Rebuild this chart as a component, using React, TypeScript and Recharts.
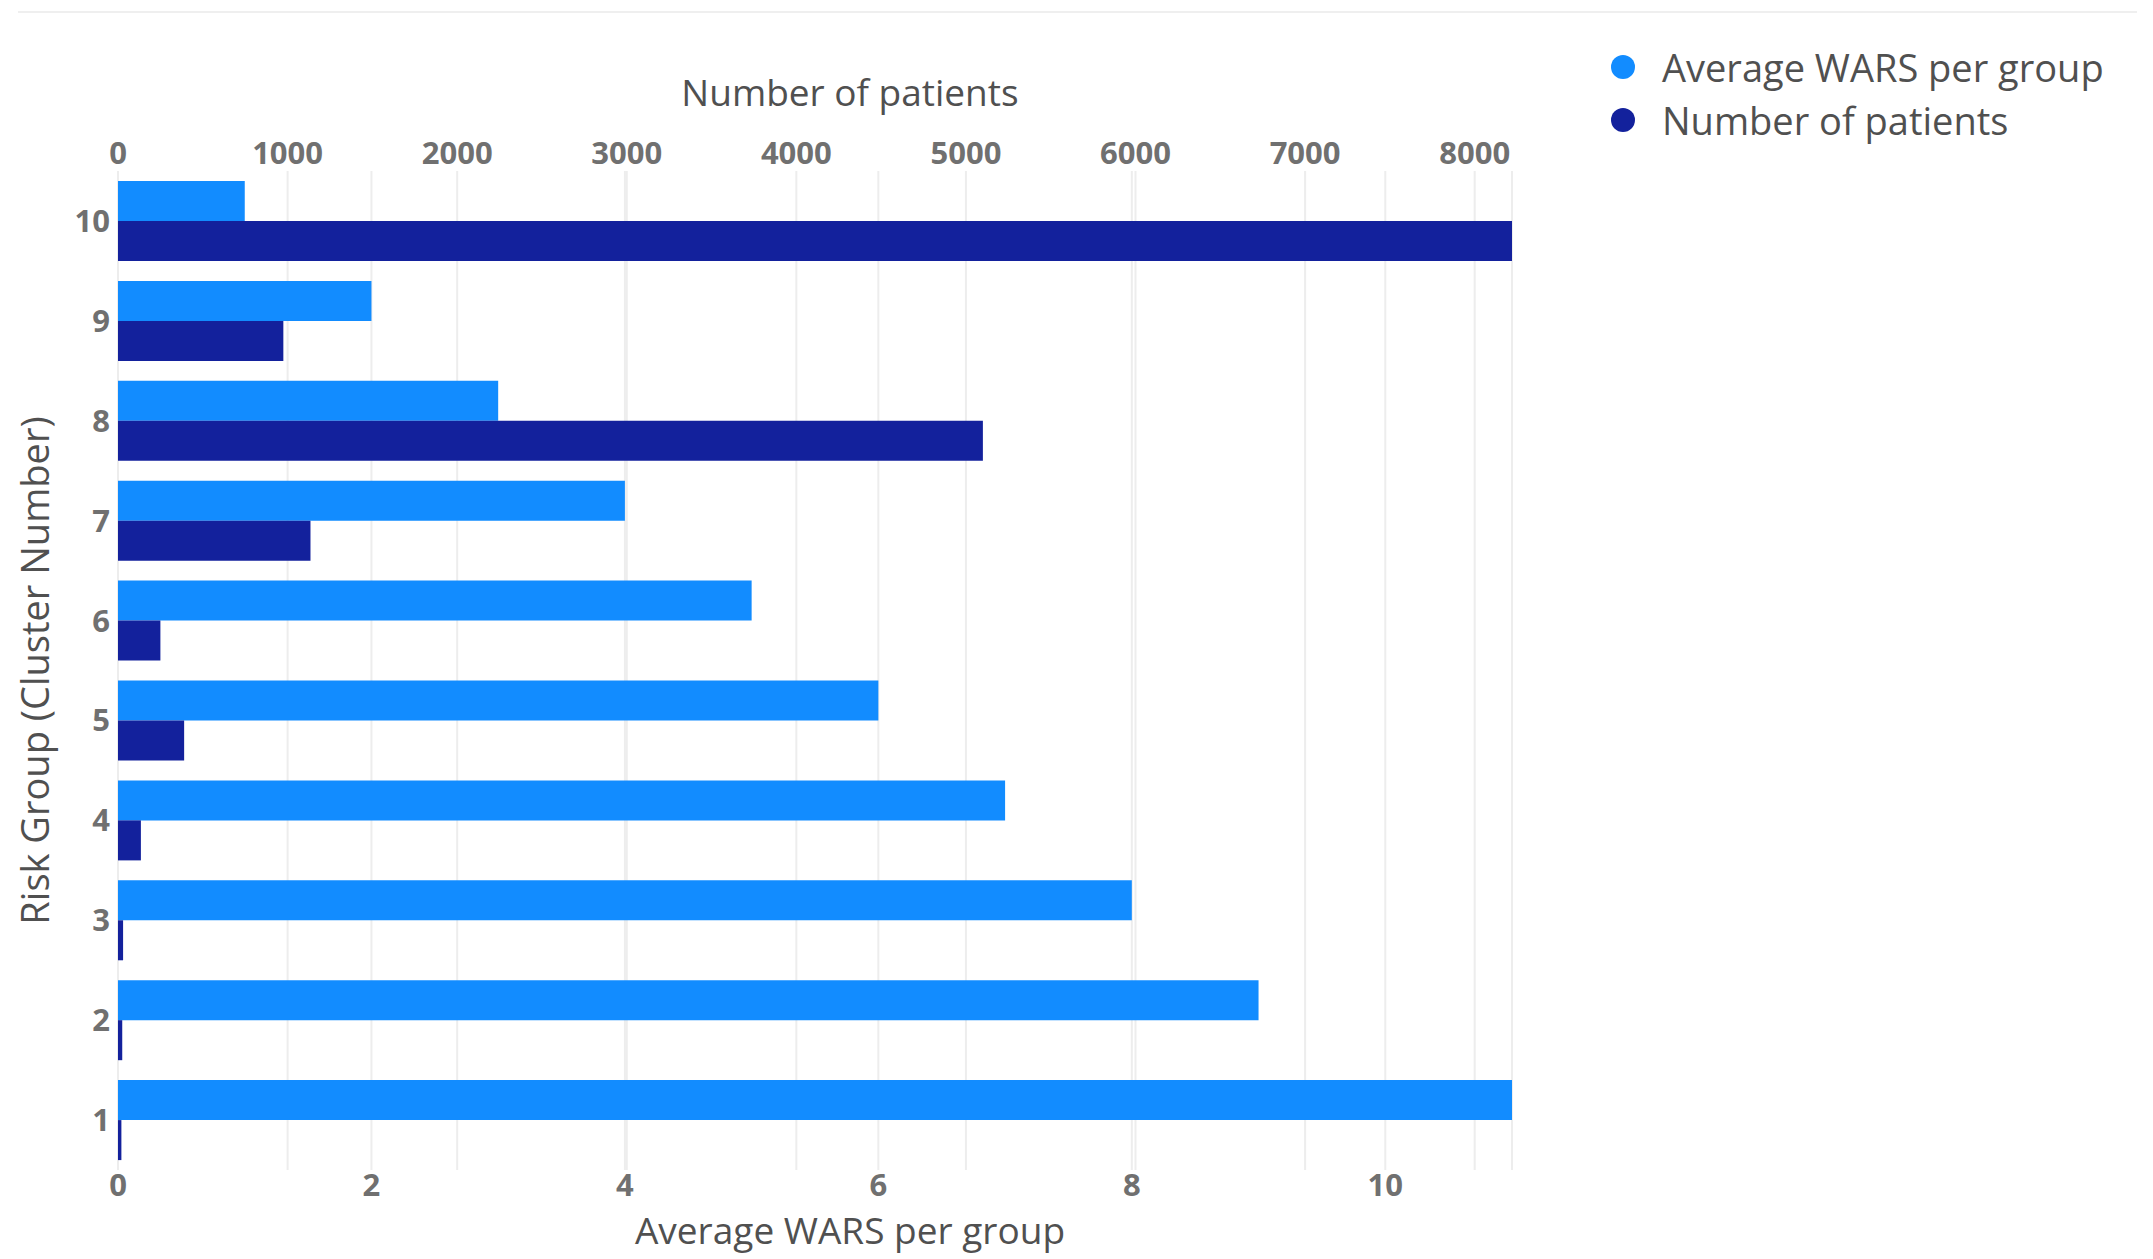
import React from "react";
import {
  BarChart,
  Bar,
  XAxis,
  YAxis,
  CartesianGrid,
  Legend,
  Label,
} from "recharts";

// risk groups, top to bottom
const groups = ["10", "9", "8", "7", "6", "5", "4", "3", "2", "1"];
const avgWars = [1, 2, 3, 4, 5, 6, 7, 8, 9, 11];
const patients = [8220, 975, 5100, 1135, 250, 390, 135, 30, 25, 20];

const patientTicks = [0, 1000, 2000, 3000, 4000, 5000, 6000, 7000, 8000];
const warsTicks = [0, 2, 4, 6, 8, 10];

const data = groups.map((g, i) => ({
  group: g,
  wars: avgWars[i],
  patients: patients[i],
}));

const FONT = "'Open Sans', sans-serif";
const LIGHT = "#128cff";
const DARK = "#13219c";
const tickStyle = { fontSize: 31, fontWeight: 700, fill: "#707070", fontFamily: FONT };
const titleStyle = { fontSize: 37, fill: "#505050", fontFamily: FONT };

function LegendBox({ payload }: any) {
  return (
    <div style={{ fontFamily: FONT, fontSize: 38, color: "#505050" }}>
      {(payload || []).map((p: any) => (
        <div key={p.value} style={{ display: "flex", alignItems: "center", height: 53 }}>
          <span
            style={{
              width: 24,
              height: 24,
              borderRadius: 12,
              background: p.color,
              marginRight: 27,
              display: "inline-block",
            }}
          />
          <span>{p.value}</span>
        </div>
      ))}
    </div>
  );
}

export default function App() {
  return (
    <div style={{ position: "relative", width: 2137, height: 1251 }}>
      <div
        style={{
          position: "absolute",
          top: 3,
          left: 10,
          width: 2119,
          height: 2,
          background: "#efefef",
        }}
      />
      <BarChart
        width={2137}
        height={1251}
        data={data}
        layout="vertical"
        margin={{ top: 103, right: 633, bottom: 29, left: 30 }}
        barCategoryGap="10%"
        barGap={0}
      >
        <CartesianGrid xAxisId="patients" horizontal={false} stroke="#ededed" strokeWidth={2} />
        <CartesianGrid xAxisId="wars" horizontal={false} stroke="#ededed" strokeWidth={2} />
        <XAxis
          xAxisId="patients"
          type="number"
          orientation="top"
          domain={[0, "dataMax"]}
          ticks={patientTicks}
          height={60}
          axisLine={false}
          tickLine={false}
          tickSize={0}
          tickMargin={7}
          tick={tickStyle}
          interval={0}
        >
          <Label
            content={({ viewBox }: any) => (
              <text
                x={viewBox.x + viewBox.width / 2 + 35}
                y={viewBox.y - 5}
                textAnchor="middle"
                {...titleStyle}
              >
                Number of patients
              </text>
            )}
          />
        </XAxis>
        <XAxis
          xAxisId="wars"
          type="number"
          orientation="bottom"
          domain={[0, "dataMax"]}
          ticks={warsTicks}
          height={60}
          axisLine={false}
          tickLine={false}
          tickSize={0}
          tickMargin={4}
          tick={tickStyle}
          interval={0}
        >
          <Label
            content={({ viewBox }: any) => (
              <text
                x={viewBox.x + viewBox.width / 2 + 35}
                y={viewBox.y + 74}
                textAnchor="middle"
                {...titleStyle}
              >
                Average WARS per group
              </text>
            )}
          />
        </XAxis>
        <YAxis
          type="category"
          dataKey="group"
          width={80}
          axisLine={false}
          tickLine={false}
          tickSize={0}
          tickMargin={8}
          tick={tickStyle}
          interval={0}
        >
          <Label
            content={({ viewBox }: any) => {
              const x = viewBox.x + 11;
              const y = viewBox.y + viewBox.height / 2;
              return (
                <text
                  x={x}
                  y={y}
                  transform={`rotate(-90 ${x} ${y})`}
                  textAnchor="middle"
                  {...titleStyle}
                  fontSize={38}
                >
                  Risk Group (Cluster Number)
                </text>
              );
            }}
          />
        </YAxis>
        <Legend
          layout="vertical"
          align="center"
          verticalAlign="middle"
          content={<LegendBox />}
          wrapperStyle={{ top: 32, left: 1603, width: "auto", bottom: "auto", right: "auto" }}
        />
        <Bar
          xAxisId="wars"
          dataKey="wars"
          name="Average WARS per group"
          fill={LIGHT}
          isAnimationActive={false}
        />
        <Bar
          xAxisId="patients"
          dataKey="patients"
          name="Number of patients"
          fill={DARK}
          isAnimationActive={false}
        />
      </BarChart>
    </div>
  );
}
